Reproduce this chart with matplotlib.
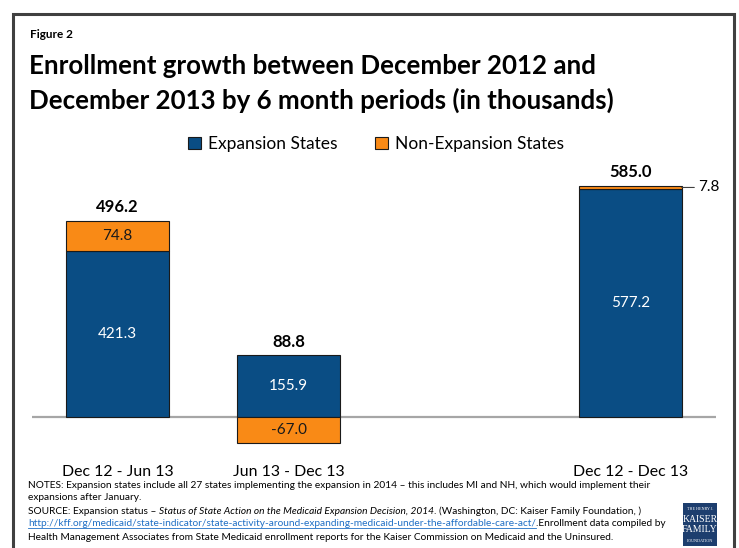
import matplotlib
matplotlib.use("Agg")
from matplotlib import pyplot as plt
from matplotlib.patches import Rectangle
import numpy as np

plt.rcParams['font.family'] = ['Lato', 'DejaVu Sans']

# data (thousands)
periods = ["Dec 12 - Jun 13", "Jun 13 - Dec 13", "Dec 12 - Dec 13"]
slots = [0, 1, 3]
expansion = [421.3, 155.9, 577.2]
non_expansion = [74.8, -67.0, 7.8]
totals = [496.2, 88.8, 585.0]

blue = '#0A4D84'
orange = '#F98A16'

fig = plt.figure(figsize=(7.39, 5.48), dpi=100)

# outer frame
fig.patches.append(Rectangle((12.5 / 739, -0.05), (734 - 12.5) / 739, 1.05 - 14 / 548,
                             transform=fig.transFigure, fill=False,
                             edgecolor='#404040', linewidth=2.2))

fig.text(30 / 739, 1 - 34 / 548, "Figure 2", fontsize=8.5, fontweight='bold',
         va='center', ha='left')
fig.text(29 / 739, 1 - 66 / 548, "Enrollment growth between December 2012 and",
         fontsize=18.6, fontweight='bold', va='center', ha='left')
fig.text(29 / 739, 1 - 100 / 548, "December 2013 by 6 month periods (in thousands)",
         fontsize=18.6, fontweight='bold', va='center', ha='left')

ax = fig.add_axes([32 / 739, 1 - 456.5 / 548, 684 / 739, 296.25 / 548])
ax.set_xlim(-0.5, 3.5)
ax.set_ylim(-100, 650)
for s in ax.spines.values():
    s.set_visible(False)
ax.set_yticks([])

exp_bars = ax.bar(slots, expansion, width=0.6, color=blue, edgecolor='#1a1a1a',
                  linewidth=0.8, label="Expansion States", zorder=2)
ne_bottom = [e if n >= 0 else 0 for e, n in zip(expansion, non_expansion)]
ne_bars = ax.bar(slots, non_expansion, bottom=ne_bottom, width=0.6, color=orange,
                 edgecolor='#1a1a1a', linewidth=0.8, label="Non-Expansion States", zorder=2)
ax.axhline(0, color='#A6A6A6', linewidth=1.6, zorder=1)

ax.set_xticks(slots)
ax.set_xticklabels(periods, fontsize=11.4)
ax.tick_params(axis='x', length=0, pad=6)

for x, e, n, b, t in zip(slots, expansion, non_expansion, ne_bottom, totals):
    ax.text(x, e / 2, f"{e:.1f}", color='white', ha='center', va='center', fontsize=11)
    if abs(n) > 20:
        ax.text(x, b + n / 2, f"{n:.1f}", color='#1a1a1a', ha='center', va='center',
                fontsize=11)
    else:
        ax.annotate(f"{n:.1f}", xy=(x + 0.3, b + n / 2), xytext=(12, 0),
                    textcoords='offset points', ha='left', va='center', fontsize=11,
                    arrowprops=dict(arrowstyle='-', color='#404040', lw=0.8,
                                    shrinkA=1, shrinkB=0))
    top = max(e, e + n)
    ax.annotate(f"{t:.1f}", xy=(x, top), xytext=(0, 4), textcoords='offset points',
                ha='center', va='bottom', fontsize=12, fontweight='bold')

ax.legend(handles=[exp_bars, ne_bars], loc='center', ncol=2, frameon=False,
          bbox_to_anchor=(376 / 739, 1 - 144 / 548), bbox_transform=fig.transFigure,
          fontsize=12.5, handlelength=0.75, handleheight=0.75, handletextpad=0.4,
          columnspacing=2.2)

fs = 7.3
notes = [
    "NOTES: Expansion states include all 27 states implementing the expansion in 2014 \u2013 this includes MI and NH, which would implement their",
    "expansions after January.",
]
y0 = 485
fig.text(28 / 739, 1 - y0 / 548, notes[0], fontsize=fs, va='center', ha='left')
fig.text(28 / 739, 1 - (y0 + 13) / 548, notes[1], fontsize=fs, va='center', ha='left')
src = fig.text(28 / 739, 1 - (y0 + 26) / 548, "SOURCE: Expansion status \u2013 ",
               fontsize=fs, va='center', ha='left')
fig.canvas.draw()
r = fig.canvas.get_renderer()
bb = src.get_window_extent(r)
it = fig.text(bb.x1 / 739, 1 - (y0 + 26) / 548,
              "Status of State Action on the Medicaid Expansion Decision, 2014",
              fontsize=fs, style='italic', va='center', ha='left')
bb = it.get_window_extent(r)
fig.text(bb.x1 / 739, 1 - (y0 + 26) / 548,
         ". (Washington, DC: Kaiser Family Foundation, )",
         fontsize=fs, va='center', ha='left')
link = fig.text(28 / 739, 1 - (y0 + 39) / 548,
                "http://kff.org/medicaid/state-indicator/state-activity-around-expanding-medicaid-under-the-affordable-care-act/",
                fontsize=fs, color='#1F6FC5', va='center', ha='left')
bb = link.get_window_extent(r)
fig.add_artist(plt.Line2D([bb.x0 / 739, bb.x1 / 739],
                          [(bb.y0 + 1) / 548, (bb.y0 + 1) / 548],
                          color='#1F6FC5', linewidth=0.6))
fig.text(bb.x1 / 739, 1 - (y0 + 39) / 548, ".Enrollment data compiled by",
         fontsize=fs, va='center', ha='left')
fig.text(28 / 739, 1 - (y0 + 52) / 548,
         "Health Management Associates from State Medicaid enrollment reports for the Kaiser Commission on Medicaid and the Uninsured.",
         fontsize=fs, va='center', ha='left')

# logo
fig.patches.append(Rectangle((683 / 739, 1 - 546 / 548), 34 / 739, 43 / 548,
                             transform=fig.transFigure, facecolor='#1D3E6E',
                             edgecolor='none'))
fig.text(700 / 739, 1 - 509 / 548, "THE HENRY J.", color='white', fontsize=3,
         ha='center', va='center', family='Liberation Serif')
fig.text(700 / 739, 1 - 519 / 548, "KAISER", color='white', fontsize=7,
         ha='center', va='center', family='Liberation Serif')
fig.text(700 / 739, 1 - 530 / 548, "FAMILY", color='white', fontsize=7,
         ha='center', va='center', family='Liberation Serif')
fig.text(700 / 739, 1 - 541 / 548, "FOUNDATION", color='white', fontsize=3,
         ha='center', va='center', family='Liberation Serif')

fig.savefig("out.png", dpi=100)
